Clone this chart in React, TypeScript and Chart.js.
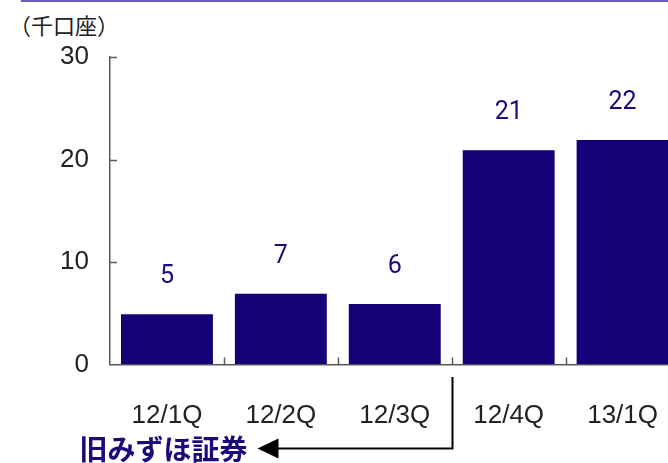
import React, { useEffect, useRef } from "react";
import { Chart, registerables } from "chart.js";

Chart.register(...registerables);

const categories = ["12/1Q", "12/2Q", "12/3Q", "12/4Q", "13/1Q"];
const accounts = [4.9, 6.9, 5.9, 20.9, 21.9];
const valueLabels = ["5", "7", "6", "21", "22"];
const yTickValues = [0, 10, 20, 30];
const unitLabel = "（千口座）";
const noteLabel = "旧みずほ証券";
const noteBoundary = 2.5; // boundary between 12/3Q and 12/4Q

const NAVY = "#150078";
const TEXT_NAVY = "#1a0a7a";

const decorPlugin = {
  id: "decor",
  afterDatasetsDraw(chart: any) {
    const ctx: CanvasRenderingContext2D = chart.ctx;
    const xs = chart.scales.x;
    const ys = chart.scales.y;
    const area = chart.chartArea;
    ctx.save();

    // inward tick marks
    ctx.strokeStyle = "#5a5a5a";
    ctx.lineWidth = 1.5;
    yTickValues.forEach((v) => {
      if (v === 0) return;
      const py = Math.round(ys.getPixelForValue(v)) + 0.5;
      ctx.beginPath();
      ctx.moveTo(area.left, py);
      ctx.lineTo(area.left + 7, py);
      ctx.stroke();
    });
    const step = xs.getPixelForValue(1) - xs.getPixelForValue(0);
    for (let i = 1; i < categories.length + 1; i++) {
      const px = Math.round(xs.getPixelForValue(i) - step / 2) + 0.5;
      ctx.beginPath();
      ctx.moveTo(px, area.bottom);
      ctx.lineTo(px, area.bottom - 7);
      ctx.stroke();
    }

    // value labels above bars
    const meta = chart.getDatasetMeta(0);
    ctx.fillStyle = TEXT_NAVY;
    ctx.font = "25px Roboto, 'Noto Sans', sans-serif";
    ctx.textAlign = "center";
    ctx.textBaseline = "middle";
    meta.data.forEach((bar: any, i: number) => {
      ctx.fillText(valueLabels[i], bar.x, bar.y - 37.5);
    });

    // arrow annotation
    const ax = Math.round(xs.getPixelForValue(noteBoundary)) + 0.5;
    const topY = area.bottom + 12.5;
    const ay = area.bottom + 84;
    const tipX = ax - 195;
    ctx.strokeStyle = "#000";
    ctx.lineWidth = 2;
    ctx.beginPath();
    ctx.moveTo(ax, topY);
    ctx.lineTo(ax, ay);
    ctx.lineTo(tipX + 18, ay);
    ctx.stroke();
    ctx.fillStyle = "#000";
    ctx.beginPath();
    ctx.moveTo(tipX, ay);
    ctx.lineTo(tipX + 21, ay - 10);
    ctx.lineTo(tipX + 21, ay + 10);
    ctx.closePath();
    ctx.fill();

    // note text
    ctx.fillStyle = TEXT_NAVY;
    ctx.font = "bold 28px 'Noto Sans CJK JP', sans-serif";
    ctx.textAlign = "right";
    ctx.textBaseline = "middle";
    ctx.fillText(noteLabel, tipX - 10, ay + 1);

    ctx.restore();
  },
};

export default function App() {
  const canvasRef = useRef<HTMLCanvasElement | null>(null);

  useEffect(() => {
    if (!canvasRef.current) return;
    const chart = new Chart(canvasRef.current, {
      type: "bar",
      data: {
        labels: categories,
        datasets: [
          {
            data: accounts,
            backgroundColor: NAVY,
            borderWidth: 0,
            barPercentage: 0.807,
            categoryPercentage: 1,
          },
        ],
      },
      options: {
        animation: false,
        responsive: false,
        devicePixelRatio: 1,
        layout: { padding: { top: 57, right: 0, bottom: 0, left: 0 } },
        plugins: { legend: { display: false }, tooltip: { enabled: false }, title: { display: false } },
        scales: {
          x: {
            grid: { display: true, drawOnChartArea: false, drawTicks: false },
            border: { display: true, color: "#5a5a5a", width: 1.5 },
            ticks: {
              color: "#222",
              font: { family: "'Liberation Sans', Arial, sans-serif", size: 26 },
              padding: 36,
              maxRotation: 0,
              autoSkip: false,
            },
            afterFit: (scale: any) => {
              scale.height = 98.5;
            },
          },
          y: {
            min: 0,
            max: 30,
            grid: { display: true, drawOnChartArea: false, drawTicks: false },
            border: { display: true, color: "#5a5a5a", width: 1.5 },
            ticks: {
              stepSize: 10,
              color: "#222",
              font: { family: "'Liberation Sans', Arial, sans-serif", size: 26 },
              padding: 21,
            },
            afterFit: (scale: any) => {
              scale.width = 110;
            },
          },
        },
      },
      plugins: [decorPlugin],
    });
    return () => chart.destroy();
  }, []);

  return (
    <div style={{ position: "fixed", left: 0, top: 0, width: 668, height: 463, overflow: "hidden", background: "#fff" }}>
      <div style={{ position: "absolute", left: 21, right: 0, top: 0, height: 2, background: "#6a5cb6" }} />
      <div
        style={{
          position: "absolute",
          left: 9,
          top: 10,
          fontFamily: "'Noto Sans CJK JP', sans-serif",
          fontSize: 22,
          lineHeight: "28px",
          color: "#222",
          whiteSpace: "nowrap",
        }}
      >
        {unitLabel}
      </div>
      <canvas
        ref={canvasRef}
        width={694}
        height={463}
        style={{ position: "absolute", left: 0, top: 0, width: 694, height: 463 }}
      />
    </div>
  );
}
